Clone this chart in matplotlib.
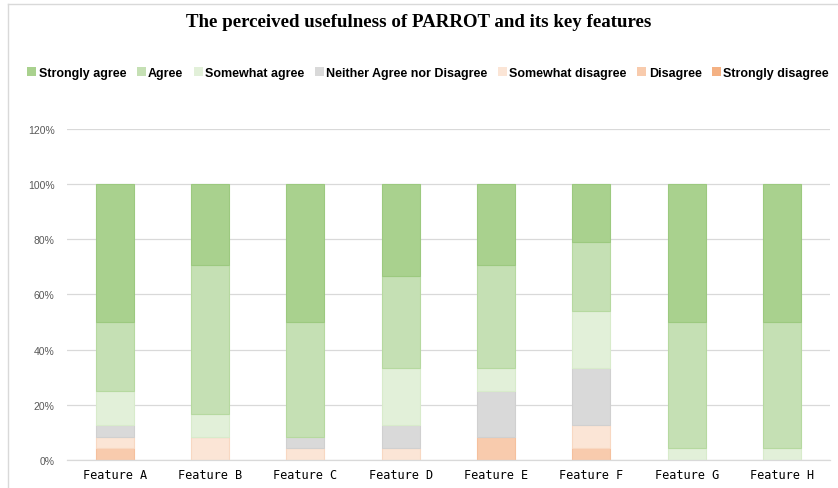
import matplotlib
matplotlib.use("Agg")
import matplotlib.pyplot as plt
from matplotlib.lines import Line2D
from matplotlib.patches import Patch
import numpy as np

categories = ["Feature A", "Feature B", "Feature C", "Feature D",
              "Feature E", "Feature F", "Feature G", "Feature H"]
series_names = ["Strongly agree", "Agree", "Somewhat agree",
                "Neither Agree nor Disagree", "Somewhat disagree",
                "Disagree", "Strongly disagree"]

strongly_disagree = [0, 0, 0, 0, 0, 0, 0, 0]
disagree          = [4.17, 0, 0, 0, 8.33, 4.17, 0, 0]
somewhat_disagree = [4.17, 8.33, 4.17, 4.17, 0, 8.33, 0, 0]
neither           = [4.17, 0, 4.17, 8.33, 16.67, 20.83, 0, 0]
somewhat_agree    = [12.5, 8.33, 0, 20.83, 8.33, 20.83, 4.17, 4.17]
agree             = [25.0, 54.17, 41.67, 33.33, 37.5, 25.0, 45.83, 45.83]
strongly_agree    = [50.0, 29.17, 50.0, 33.33, 29.17, 20.83, 50.0, 50.0]

colors = {
    "Strongly agree": "#A9D18E",
    "Agree": "#C5E0B4",
    "Somewhat agree": "#E2F0D9",
    "Neither Agree nor Disagree": "#D9D9D9",
    "Somewhat disagree": "#FBE5D6",
    "Disagree": "#F8CBAD",
    "Strongly disagree": "#F4B183",
}
edges = {
    "Strongly agree": "#9CC97F",
    "Agree": "#B6D9A0",
    "Somewhat agree": "#D8EBCB",
    "Neither Agree nor Disagree": "#D0D0D0",
    "Somewhat disagree": "#F8D8C2",
    "Disagree": "#F5C09D",
    "Strongly disagree": "#F0A570",
}

stack = [("Strongly disagree", strongly_disagree), ("Disagree", disagree),
         ("Somewhat disagree", somewhat_disagree),
         ("Neither Agree nor Disagree", neither),
         ("Somewhat agree", somewhat_agree), ("Agree", agree),
         ("Strongly agree", strongly_agree)]

fig = plt.figure(figsize=(8.38, 4.89), dpi=100)
ax = fig.add_axes([0.080, 0.0573, 0.910, 0.677])

x = np.arange(len(categories))
bottom = np.zeros(len(categories))
for name, vals in stack:
    v = np.array(vals, dtype=float)
    ax.bar(x, v, bottom=bottom, width=0.4, color=colors[name],
           edgecolor=edges[name], linewidth=0.8, zorder=2)
    bottom += v

ax.set_xlim(-0.5, len(categories) - 0.5)
ax.set_ylim(0, 120)
yt = [0, 20, 40, 60, 80, 100, 120]
ax.set_yticks(yt)
ax.set_yticklabels([f"{t}%" for t in yt], fontsize=7.5, color="#595959",
                   family="Liberation Sans")
ax.set_xticks(x)
ax.set_xticklabels(categories, fontsize=8.6, family="DejaVu Sans Mono",
                   color="#000000")
ax.tick_params(axis="both", length=0)
ax.tick_params(axis="y", pad=9)
ax.tick_params(axis="x", pad=6)
ax.yaxis.grid(True, color="#D9D9D9", linewidth=0.9, zorder=0)
ax.set_axisbelow(True)
for s in ["top", "right", "left"]:
    ax.spines[s].set_visible(False)
ax.spines["bottom"].set_color("#D9D9D9")
ax.spines["bottom"].set_linewidth(0.9)

fig.text(0.5, 0.955, "The perceived usefulness of PARROT and its key features",
         ha="center", va="center", fontsize=13.6, fontweight="bold",
         family="Liberation Serif")

handles = [Patch(facecolor=colors[n], edgecolor="none") for n in series_names]
fig.legend(handles, series_names, loc="center", bbox_to_anchor=(0.511, 0.849),
           ncol=7, frameon=False,
           prop={"family": "Liberation Sans", "weight": "bold", "size": 9.0},
           handlelength=0.7, handleheight=0.7, handletextpad=0.2,
           columnspacing=0.85)

# chart area frame (cropped on right/bottom)
fig.add_artist(Line2D([0.0095, 0.0095], [0, 1 - 4.5 / 489], transform=fig.transFigure,
                      color="#D9D9D9", linewidth=1.0))
fig.add_artist(Line2D([0.0095, 1], [1 - 4.5 / 489, 1 - 4.5 / 489], transform=fig.transFigure,
                      color="#D9D9D9", linewidth=1.0))

fig.savefig("out.png", dpi=100)
